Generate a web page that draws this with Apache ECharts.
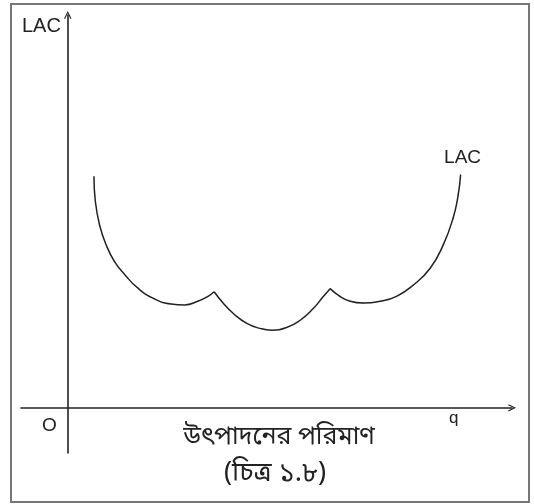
<!DOCTYPE html>
<html>
<head>
<meta charset="utf-8">
<script src="https://cdn.jsdelivr.net/npm/echarts@6/dist/echarts.min.js"></script>
<style>
  html, body { margin: 0; padding: 0; background: #fff; }
  #chart { width: 534px; height: 504px; }
</style>
</head>
<body>
<div id="chart"></div>
<script>
// Long-run average cost built from three short-run cost arcs (output, cost)
const sacLeft = [
  [5.6, 51.3], [5.9, 45.7], [6.8, 40.5], [8.2, 36.1], [10.0, 32.4],
  [12.2, 29.5], [15.0, 26.5], [18.6, 24.1], [22.1, 23.0], [25.0, 22.8],
  [27.8, 23.6], [30.0, 24.7], [31.3, 25.7]
];
const sacMiddle = [
  [31.3, 25.7], [33.3, 23.1], [35.4, 20.9], [38.3, 18.7], [41.1, 17.6],
  [43.6, 17.2], [46.8, 17.8], [49.7, 19.4], [52.5, 22.0], [54.6, 24.6],
  [56.1, 26.4]
];
const sacRight = [
  [56.1, 26.4], [58.2, 24.7], [60.4, 23.6], [63.2, 23.2], [66.8, 23.6],
  [70.3, 24.7], [73.9, 27.2], [77.5, 30.9], [80.3, 36.1], [82.4, 42.0],
  [83.5, 47.2], [84.0, 51.6]
];

const curveName = 'LAC';
const yAxisTitle = 'LAC';
const originLabel = 'O';
const xAxisTitle = 'q';
const xCaption = 'উৎপাদনের পরিমাণ';
const figureCaption = '(চিত্র ১.৮)';

const ink = '#222';
const latinFont = '"Liberation Sans", Arial, sans-serif';
const bnFont = '"Noto Sans", "Noto Sans Bengali", sans-serif';

// open chevron used as the axis arrow head
const chevron = 'path://M0,10 L5,0 L10,10 L8.6,10.8 L5,3.2 L1.4,10.8 Z';

function arc(points, labelLast) {
  return {
    type: 'line',
    smooth: 0.5,
    // the labelled arc keeps tiny symbols so its end label can be drawn
    symbol: labelLast ? 'circle' : 'none',
    symbolSize: 1,
    showSymbol: !!labelLast,
    itemStyle: { color: ink },
    lineStyle: { color: ink, width: 1.5 },
    silent: true,
    data: points.map((p, i) => {
      if (labelLast && i === points.length - 1) {
        return {
          value: p,
          label: {
            show: true,
            position: 'top',
            distance: 7,
            offset: [2, 0],
            formatter: curveName,
            color: ink,
            fontSize: 19,
            fontFamily: latinFont
          }
        };
      }
      return p;
    })
  };
}

const chart = echarts.init(document.getElementById('chart'), null, { renderer: 'canvas' });
chart.setOption({
  backgroundColor: '#fff',
  animation: false,
  grid: { left: 21, right: 22, top: 15, bottom: 51 },
  xAxis: {
    type: 'value',
    min: -10,
    max: 95,
    axisLine: {
      onZero: true,
      lineStyle: { color: ink, width: 1.6 },
      symbol: ['none', chevron],
      symbolSize: [10, 8],
      symbolOffset: [0, 0]
    },
    axisTick: { show: false },
    axisLabel: { show: false },
    splitLine: { show: false }
  },
  yAxis: {
    type: 'value',
    min: -10,
    max: 87,
    axisLine: {
      onZero: true,
      lineStyle: { color: ink, width: 1.6 },
      symbol: ['none', chevron],
      symbolSize: [10, 8],
      symbolOffset: [0, 0]
    },
    axisTick: { show: false },
    axisLabel: { show: false },
    splitLine: { show: false }
  },
  series: [arc(sacLeft, false), arc(sacMiddle, false), arc(sacRight, true)],
  graphic: [
    {
      type: 'rect',
      shape: { x: 11, y: 4, width: 518, height: 498 },
      style: { fill: 'none', stroke: '#777', lineWidth: 2 },
      silent: true
    },
    {
      type: 'text', left: 22, top: 16,
      style: { text: yAxisTitle, fill: ink, font: '20px ' + latinFont }
    },
    {
      type: 'text', left: 42, top: 416,
      style: { text: originLabel, fill: ink, font: '19px ' + latinFont }
    },
    {
      type: 'text', left: 449, top: 410,
      style: { text: xAxisTitle, fill: ink, font: '17px ' + latinFont }
    },
    {
      type: 'text', x: 279, y: 437,
      style: { text: xCaption, fill: ink, font: '25px ' + bnFont, align: 'center', verticalAlign: 'middle' }
    },
    {
      type: 'text', x: 275, y: 473,
      style: { text: figureCaption, fill: ink, font: '27px ' + bnFont, align: 'center', verticalAlign: 'middle' }
    }
  ]
});
</script>
</body>
</html>
